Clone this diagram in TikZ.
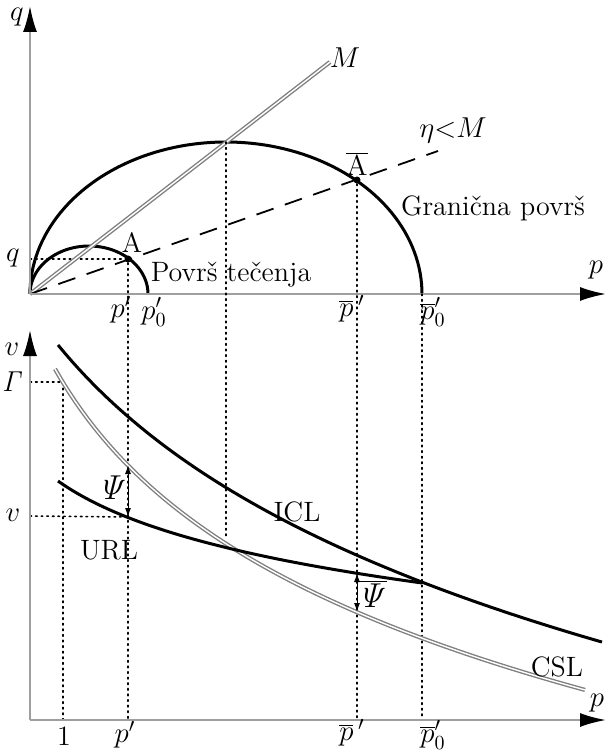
\documentclass[tikz,border=0pt]{standalone}
\usetikzlibrary{arrows.meta}
\begin{document}
\begin{tikzpicture}[x=0.5pt,y=-0.5pt,
  every node/.style={font=\fontsize{14}{16}\selectfont,inner sep=1pt},
  axis/.style={draw=gray!75,line width=1pt,-{Latex[length=13pt,width=7pt,color=black]}},
  curve/.style={line width=1.5pt},
  crit/.style={draw=gray,double=white,double distance=0.7pt,line width=0.7pt},
  guide/.style={dotted,line width=0.8pt,line cap=round},
  dot/.style={circle,fill,inner sep=0pt,minimum size=3.5pt},
  big/.style={font=\fontsize{17}{19}\selectfont},
  gap/.style={{Latex[length=4.5pt,width=3pt]}-{Latex[length=4.5pt,width=3pt]},line width=0.5pt}]
\useasboundingbox (0,0) rectangle (606,753);
% upper diagram: p-q plane
\coordinate (O) at (30,294);
\coordinate (qtip) at (30,6);
\coordinate (ptip) at (606,294);
\coordinate (Mend) at (330,62);
\coordinate (Eend) at (438,151);
\coordinate (p0s) at (148,294);
\coordinate (p0b) at (422,294);
\coordinate (top) at (226,142);
\coordinate (qA) at (30,259);
\node[dot] (A) at (128,259) {};
\node[dot] (Abar) at (357,180) {};
\draw[guide] (qA) -- (A);
\draw[curve] plot[domain=180:0,samples=60] ({89+59*cos(\x)},{294-48*sin(\x)});
\draw[curve] plot[domain=180:0,samples=90] ({226+196*cos(\x)},{294-152*sin(\x)});
\draw[crit] (O) -- (Mend);
\draw[dash pattern=on 9pt off 6pt,line width=0.9pt] (O) -- (Eend);
\draw[axis] (O) -- (qtip);
\draw[axis] (O) -- (ptip);
\node (qlab) at (17,17) {$q$};
\node (plab) at (596,270) {$p$};
\node (Mlab) at (345,58) {$M$};
\node (etalab) at (453,130) {$\eta{<}M$};
\node (qAlab) at (13,258) {$q$};
\node (Alab) at (132,243) {A};
\node (Abarlab) at (357,164) {$\overline{\mathrm{A}}$};
\node (yieldlab) at (231,275) {Površ tečenja};
\node (boundlab) at (493,208) {Granična površ};
\node (pplab) at (121,310) {$p'$};
\node (p0lab) at (154,312) {$p_0'$};
\node (pblab) at (352,309) {$\overline{p}\,'$};
\node (p0blab) at (433,312) {$\overline{p}_0'$};
% lower diagram: p-v plane
\coordinate (O2) at (30,720);
\coordinate (vtip) at (30,330);
\coordinate (p2tip) at (606,720);
\coordinate (xone) at (63,720);
\coordinate (xp) at (128,720);
\coordinate (xpb) at (357,720);
\coordinate (xp0b) at (422,720);
\coordinate (topdown) at (226,538);
\coordinate (gam) at (30,382);
\coordinate (gamc) at (63,382);
\coordinate (vv) at (30,516);
\coordinate (U1) at (128,517);
\coordinate (C1) at (128,465);
\coordinate (U2) at (357,573);
\coordinate (C2) at (357,612);
\draw[guide] (A) -- (xp);
\draw[guide] (Abar) -- (xpb);
\draw[guide] (p0b) -- (xp0b);
\draw[guide] (top) -- (topdown);
\draw[guide] (gam) -- (gamc) -- (xone);
\draw[guide] (vv) -- (U1);
% ICL, CSL, URL
\draw[curve] plot[domain=58:602,samples=80] (\x,{-709+205.7*ln(\x+110)});
\draw[crit] plot[domain=55:585,samples=80] (\x,{-417.9+172*ln(\x+42)});
\draw[curve] plot[domain=58:422,samples=60] (\x,{202.1+62.3*ln(\x+30)});
\draw[gap] (U1) -- (C1);
\draw[gap] (U2) -- (C2);
\draw[axis] (O2) -- (vtip);
\draw[axis] (O2) -- (p2tip);
\node (vlab) at (12,349) {$v$};
\node (p2lab) at (597,703) {$p$};
\node (gamlab) at (13,382) {$\mathit{\Gamma}$};
\node (vvlab) at (13,515) {$v$};
\node[big] (psilab) at (112,488) {$\mathit{\Psi}$};
\node[big] (psiblab) at (372,594) {$\overline{\mathit{\Psi}}$};
\node (icllab) at (297,512) {ICL};
\node (urllab) at (109,550) {URL};
\node (csllab) at (557,667) {CSL};
\node (onelab) at (64,736) {1};
\node (pp2lab) at (125,735) {$p'$};
\node (pb2lab) at (352,733) {$\overline{p}\,'$};
\node (p0b2lab) at (433,735) {$\overline{p}_0'$};
\end{tikzpicture}
\end{document}
